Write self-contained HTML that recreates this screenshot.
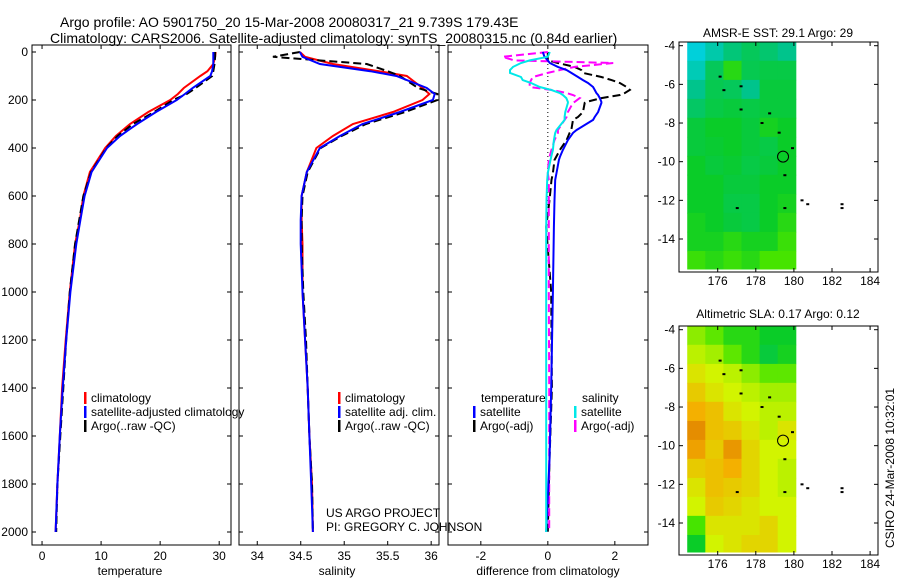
<!DOCTYPE html>
<html><head><meta charset="utf-8">
<style>
body{margin:0;background:#fff;}
svg{display:block;font-family:"Liberation Sans",sans-serif;}
</style></head>
<body>
<svg id="c" width="900" height="580" viewBox="0 0 900 580" xmlns="http://www.w3.org/2000/svg">
<text x="60" y="27" font-size="14">Argo profile: AO 5901750_20 15-Mar-2008 20080317_21 9.739S 179.43E</text>
<text x="50" y="43" font-size="14">Climatology: CARS2006. Satellite-adjusted climatology: synTS_20080315.nc (0.84d earlier)</text>
<text x="778" y="37" font-size="12" text-anchor="middle">AMSR-E SST: 29.1 Argo: 29</text>
<text x="778" y="318" font-size="12" text-anchor="middle">Altimetric SLA: 0.17 Argo: 0.12</text>
<text x="0" y="0" font-size="12" text-anchor="middle" transform="translate(894,468) rotate(-90)">CSIRO 24-Mar-2008 10:32:01</text>
<text x="326" y="517" font-size="12">US ARGO PROJECT</text>
<text x="326" y="531" font-size="12">PI: GREGORY C. JOHNSON</text>
<g id="g"></g>
</svg>
<script>
// ---- data ----
const depths=[0,20,50,80,100,150,175,200,250,300,350,400,500,600,700,800,1000,1200,1400,1600,1800,2000];
const tempClim=[29.4,29.3,29.0,28.0,26.8,24.0,23.0,21.7,18.0,14.9,12.5,10.7,8.1,7.0,6.4,5.6,4.7,4.0,3.4,3.0,2.6,2.3];
const tempSat=[29.0,29.0,29.0,28.8,28.5,25.5,24.2,22.8,19.3,16.1,13.2,11.0,8.4,7.2,6.5,5.8,4.8,4.1,3.5,3.0,2.6,2.3];
const tempArgo=[29.3,29.3,29.2,29.0,28.8,26.0,24.5,22.2,19.0,15.4,12.8,10.9,8.3,7.0,6.3,5.6,4.7,4.1,3.6,3.1,2.6,2.4];
const salClim=[34.49,34.55,34.87,35.4,35.72,35.9,35.98,35.9,35.56,35.1,34.87,34.68,34.57,34.51,34.51,34.52,34.52,34.55,34.58,34.6,34.63,34.64];
const salSat=[34.49,34.52,34.72,35.3,35.6,35.95,36.04,36.02,35.64,35.21,34.95,34.72,34.57,34.51,34.5,34.5,34.52,34.55,34.58,34.6,34.62,34.64];
const salArgo=[34.49,34.18,35.26,35.5,35.64,35.85,36.07,36.07,35.7,35.25,34.97,34.73,34.58,34.52,34.51,34.51,34.53,34.56,34.58,34.6,34.63,34.64];
const dDepths=[0,20,35,46,62,75,87,104,117,129,146,158,171,179,192,208,212,250,271,283,325,337,367,408,437,450,504,533,617,729,1000,1400,1700,2000];
const diffTempSat=[-0.15,-0.1,0,0.06,0.3,0.56,0.7,0.9,1.05,1.2,1.35,1.4,1.45,1.5,1.55,1.6,1.6,1.5,1.4,1.35,0.86,0.75,0.6,0.45,0.36,0.33,0.26,0.22,0.2,0.18,0.15,0.1,0.05,-0.05];
const diffTempArgo=[0,0,0,0.3,0.8,1.0,1.05,1.6,1.9,2.15,2.35,2.45,2.3,2.15,1.6,1.15,1.1,1.05,0.9,0.75,0.7,0.65,0.56,0.36,0.25,0.2,0.15,0.11,0.05,-0.05,0.1,0.12,0.05,0];
const diffSalSat=[0.06,0.0,-0.54,-0.8,-1.04,-1.13,-1.13,-0.8,-0.75,-0.5,-0.24,0.1,0.36,0.45,0.55,0.6,0.6,0.52,0.5,0.5,0.26,0.22,0.18,0.15,0.1,0.08,0,-0.02,-0.04,-0.05,-0.05,-0.05,-0.05,-0.05];
const diffSalArgo=[0,-1.35,-1.0,1.95,0.8,0.36,0.0,-0.45,-0.5,-0.54,-0.54,0.1,0.56,0.75,0.95,0.8,0.75,0.6,0.56,0.5,0.3,0.3,0.2,0.11,0.05,0.03,0,0.03,0.03,0.03,0.03,0.04,0.04,0.04];
const depthTicks=[0,200,400,600,800,1000,1200,1400,1600,1800,2000];
const tempTicks=[0,10,20,30];
const salTicks=[34,34.5,35,35.5,36];
const salTickLabels=["34","34.5","35","35.5","36"];
const diffTicks=[-2,0,2];
const lonTicks=[176,178,180,182,184];
const latTicks=[-4,-6,-8,-10,-12,-14];
const gridLons=[174.4,175.35,176.3,177.25,178.2,179.15];
const gridLats=[-3.8,-4.78,-5.77,-6.75,-7.73,-8.72,-9.7,-10.68,-11.67,-12.65,-13.63,-14.62];
const sstGrid=[
[0.27,0.35,0.42,0.45,0.43,0.40],
[0.33,0.45,0.55,0.46,0.47,0.47],
[0.40,0.46,0.45,0.40,0.48,0.48],
[0.44,0.47,0.48,0.47,0.48,0.48],
[0.48,0.50,0.50,0.48,0.52,0.50],
[0.48,0.49,0.50,0.48,0.47,0.50],
[0.50,0.48,0.49,0.47,0.48,0.50],
[0.50,0.50,0.48,0.48,0.50,0.50],
[0.50,0.50,0.47,0.47,0.50,0.52],
[0.52,0.50,0.48,0.47,0.50,0.55],
[0.52,0.52,0.55,0.52,0.52,0.58],
[0.58,0.55,0.58,0.55,0.60,0.60]];
const slaGrid=[
[0.66,0.62,0.55,0.55,0.50,0.50],
[0.70,0.68,0.62,0.55,0.48,0.52],
[0.75,0.72,0.70,0.66,0.62,0.62],
[0.80,0.75,0.72,0.70,0.68,0.68],
[0.85,0.82,0.75,0.72,0.70,0.70],
[0.92,0.82,0.80,0.75,0.70,0.75],
[0.88,0.80,0.90,0.78,0.72,0.72],
[0.80,0.82,0.85,0.78,0.72,0.70],
[0.75,0.82,0.80,0.78,0.72,0.70],
[0.72,0.80,0.78,0.75,0.72,0.72],
[0.60,0.75,0.75,0.75,0.78,0.72],
[0.50,0.72,0.75,0.78,0.78,0.72]];
const islandLons=[176.1,176.3,177.2,177.2,178.3,178.7,179.2,179.9,179.5,180.4,180.7,182.5,182.5,177.0,179.5];
const islandLats=[-5.6,-6.3,-6.1,-7.3,-8.0,-7.5,-8.5,-9.3,-10.7,-12.0,-12.2,-12.2,-12.4,-12.4,-12.4];
const argoLon=179.43, argoLat=-9.739;

// ---- drawing ----
const NS="http://www.w3.org/2000/svg";
const G=document.getElementById('g');
function mk(t,a,p){const e=document.createElementNS(NS,t);for(const k in a)e.setAttribute(k,a[k]);(p||G).appendChild(e);return e;}
const yD=d=>52+d*0.24;
const BOT=545, TOP=52;
const panels=[
 {x0:32,x1:231,v0:-1.7,v1:32,name:'temperature'},
 {x0:239,x1:439,v0:33.79,v1:36.09,name:'salinity'},
 {x0:448,x1:648,v0:-2.98,v1:2.99,name:'difference'}];
function xf(p){return v=>p.x0+(v-p.v0)/(p.v1-p.v0)*(p.x1-p.x0);}
function line(xs,ds,fx,fy,color,dash,name){
  const pts=xs.map((v,i)=>fx(v).toFixed(1)+','+fy(ds[i]).toFixed(1)).join(' ');
  const e=mk('polyline',{points:pts,fill:'none',stroke:color,'stroke-width':2});
  if(dash)e.setAttribute('stroke-dasharray',dash);
  
  
}
function txt(x,y,s,anchor,size){const e=mk('text',{x:x,y:y,'font-size':size||12,'text-anchor':anchor||'start'});e.textContent=s;return e;}

panels.forEach((p,pi)=>{
  const g=mk('g',{});
  
  
  const r=mk('rect',{x:p.x0,y:TOP-7,width:p.x1-p.x0,height:BOT-TOP+7,fill:'none',stroke:'#000','stroke-width':1},g);
  
  
  depthTicks.forEach(d=>{
    mk('line',{x1:p.x0,x2:p.x0+4,y1:yD(d),y2:yD(d),stroke:'#000'},g);
    mk('line',{x1:p.x1,x2:p.x1-4,y1:yD(d),y2:yD(d),stroke:'#000'},g);
    if(pi===0){const t=txt(28,yD(d)+4,String(d),'end');}
  });
  const f=xf(p);
  const ticks=pi===0?tempTicks:pi===1?salTicks:diffTicks;
  const labs=pi===1?salTickLabels:ticks.map(String);
  ticks.forEach((v,i)=>{
    mk('line',{x1:f(v),x2:f(v),y1:BOT,y2:BOT-4,stroke:'#000'},g);
    mk('line',{x1:f(v),x2:f(v),y1:TOP-7,y2:TOP-3,stroke:'#000'},g);
    const t=txt(f(v),560,labs[i],'middle');
    
    
  });
});
[[130,'temperature'],[337,'salinity'],[548,'difference from climatology']].forEach(a=>{
  const t=txt(a[0],575,a[1],'middle');
  
  
});
const fT=xf(panels[0]);
line(tempClim,depths,fT,yD,'#ff0000',null,'temp-climatology-line');
line(tempArgo,depths,fT,yD,'#000',"8,4",'temp-argo-line');
line(tempSat,depths,fT,yD,'#0000ff',null,'temp-satellite-line');
const fS=xf(panels[1]);
line(salClim,depths,fS,yD,'#ff0000',null,'sal-climatology-line');
line(salArgo,depths,fS,yD,'#000',"8,4",'sal-argo-line');
line(salSat,depths,fS,yD,'#0000ff',null,'sal-satellite-line');
const fD=xf(panels[2]);
const z=mk('line',{x1:fD(0),x2:fD(0),y1:TOP,y2:yD(650),stroke:'#000','stroke-dasharray':'1,3'});


line(diffTempArgo,dDepths,fD,yD,'#000',"8,4",'diff-temp-argo-line');
line(diffSalArgo,dDepths,fD,yD,'#ff00ff',"8,4",'diff-sal-argo-line');
line(diffTempSat,dDepths,fD,yD,'#0000ff',null,'diff-temp-satellite-line');
line(diffSalSat,dDepths,fD,yD,'#00e8e8',null,'diff-sal-satellite-line');

function leg(x,y,color,label){
  const g=mk('g',{});
  
  
  mk('rect',{x:x,y:y-10,width:2.5,height:12,fill:color},g);
  const t=mk('text',{x:x+7,y:y,'font-size':12},g);t.textContent=label;
}
leg(84,402,'#ff0000','climatology');
leg(84,416,'#0000ff','satellite-adjusted climatology');
leg(84,430,'#000','Argo(..raw -QC)');
leg(338,402,'#ff0000','climatology');
leg(338,416,'#0000ff','satellite adj. clim.');
leg(338,430,'#000','Argo(..raw -QC)');
const th=txt(481,402,'temperature');


leg(473,416,'#0000ff','satellite');
leg(473,430,'#000','Argo(-adj)');
const sh=txt(582,402,'salinity');


leg(574,416,'#00e8e8','satellite');
leg(574,430,'#ff00ff','Argo(-adj)');

const stops=[[0,[0,48,192]],[0.25,[0,210,230]],[0.4,[0,196,140]],[0.5,[10,204,40]],[0.6,[70,228,0]],[0.72,[210,244,0]],[0.85,[244,176,0]],[1,[212,100,0]]];
function col(t){for(let i=1;i<stops.length;i++){if(t<=stops[i][0]){const a=stops[i-1],b=stops[i],u=(t-a[0])/(b[0]-a[0]);return 'rgb('+a[1].map((c,k)=>Math.round(c+(b[1][k]-c)*u)).join(',')+')';}}return 'rgb(212,100,0)';}
function drawMap(top,bot,grid,name){
  const L=679,R=878;
  const lx=lon=>717.7+(lon-176)*19.05;
  const ly=lat=>top+3.7+(-4-lat)*19.33;
  const g=mk('g',{});
  
  
  const dlon=0.95,dlat=0.98;
  grid.forEach((row,i)=>row.forEach((v,j)=>{
    const x0=lx(gridLons[j]),x1=lx(Math.min(gridLons[j]+dlon,180.1));
    const y0=ly(gridLats[i]),y1=Math.min(ly(gridLats[i]-dlat),bot-3);
    const c=mk('rect',{x:x0,y:y0,width:x1-x0+0.5,height:y1-y0+0.5,fill:col(v)},g);
    
    
  }));
  islandLons.forEach((lo,i)=>{
    const s=mk('rect',{x:lx(lo)-1,y:ly(islandLats[i])-1,width:3,height:2,fill:'#000'},g);
    
    
  });
  const c=mk('circle',{cx:lx(argoLon),cy:ly(argoLat),r:5.5,fill:'none',stroke:'#000','stroke-width':1},g);
  
  
  const b=mk('rect',{x:L,y:top,width:R-L,height:bot-top,fill:'none',stroke:'#000'},g);
  
  
  lonTicks.forEach(lo=>{
    mk('line',{x1:lx(lo),x2:lx(lo),y1:bot,y2:bot-4,stroke:'#000'},g);
    mk('line',{x1:lx(lo),x2:lx(lo),y1:top,y2:top+4,stroke:'#000'},g);
    const t=txt(lx(lo),bot+13,String(lo),'middle');
    
    
  });
  latTicks.forEach(la=>{
    mk('line',{x1:L,x2:L+4,y1:ly(la),y2:ly(la),stroke:'#000'},g);
    mk('line',{x1:R,x2:R-4,y1:ly(la),y2:ly(la),stroke:'#000'},g);
    const t=txt(L-4,ly(la)+4,String(la),'end');
    
    
  });
}
drawMap(42,272,sstGrid,'sst-map');
drawMap(326,555,slaGrid,'sla-map');
</script>
</body></html>
